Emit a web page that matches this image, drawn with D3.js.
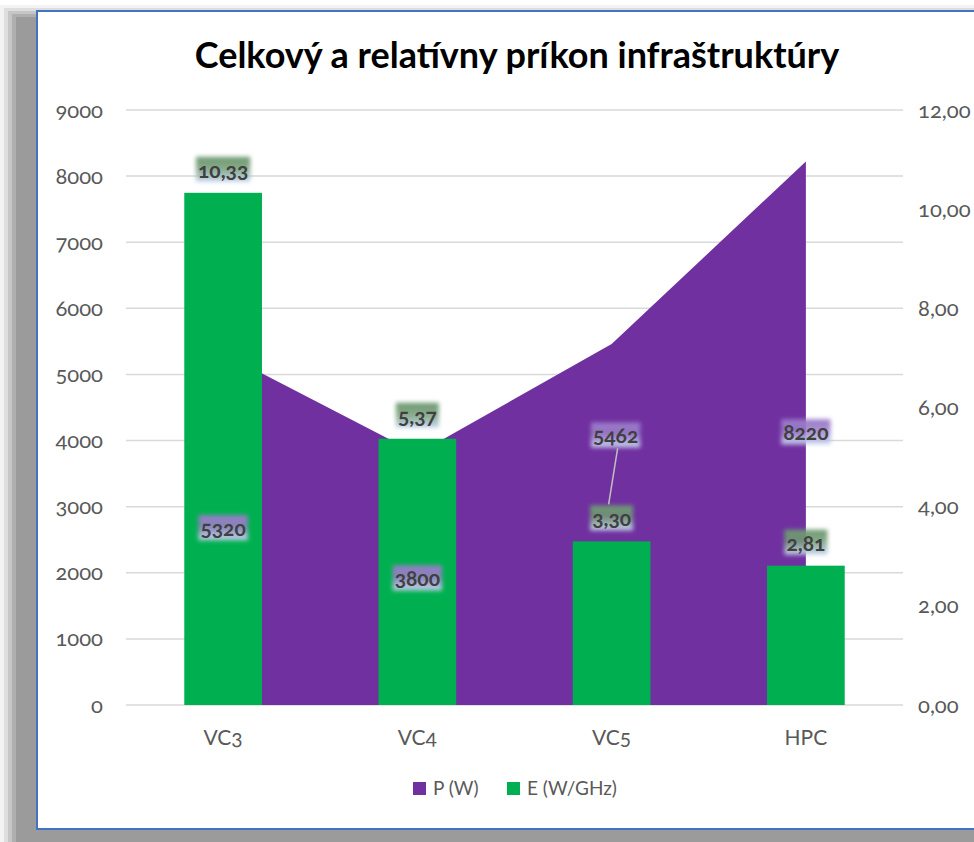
<!DOCTYPE html>
<html>
<head>
<meta charset="utf-8">
<script src="https://cdn.jsdelivr.net/npm/d3@7"></script>
<style>
  html, body { margin: 0; padding: 0; background: #fff; }
  svg { display: block; font-family: Lato, "Open Sans", sans-serif; font-variant-numeric: oldstyle-nums; }
</style>
</head>
<body>
<svg id="chart" width="974" height="842"></svg>
<script>
// Categories and series
const categories = ["VC3", "VC4", "VC5", "HPC"];
const powerW = [5320, 3800, 5462, 8220];        // P (W) – area, left axis
const efficiency = [10.33, 5.37, 3.30, 2.81];   // E (W/GHz) – bars, right axis
const leftTicks = [0, 1000, 2000, 3000, 4000, 5000, 6000, 7000, 8000, 9000];
const rightTicks = [0, 2, 4, 6, 8, 10, 12];
const seriesNames = ["P (W)", "E (W/GHz)"];
const titleText = "Celkový a relatívny príkon infraštruktúry";

const PURPLE = "#7030A0", GREEN = "#00B050", GRID = "#d9d9d9", AXIS_TXT = "#595959", LABEL_TXT = "#404040";

const sk = d3.formatLocale({ decimal: ",", thousands: " ", grouping: [3], currency: ["", " €"] });
const fmt2 = sk.format(".2f");
const fmt0 = d3.format("d");

const svg = d3.select("#chart");
const defs = svg.append("defs");

// Drop shadow frame behind the chart box
const shadowSteps = ["#f3f3f3", "#dedede", "#c6c6c6", "#afafaf", "#9b9b9b"];
shadowSteps.forEach((c, i) => {
  svg.append("rect").attr("x", i * 4).attr("y", 5 + i * 3).attr("width", 1100).attr("height", 900).attr("fill", c);
});
svg.append("rect").attr("x", 37).attr("y", 11).attr("width", 1000).attr("height", 818)
  .attr("fill", "#fff").attr("stroke", "#4472C4").attr("stroke-width", 2);

// Title
svg.append("text").attr("x", 517).attr("y", 68).attr("text-anchor", "middle")
  .attr("font-size", 36).attr("font-weight", 700).attr("fill", "#000").text(titleText);

// Scales
const x = d3.scaleBand().domain(categories).range([126, 903]).padding(0);
const yL = d3.scaleLinear().domain([0, 9000]).range([705, 110]);
const yR = d3.scaleLinear().domain([0, 12]).range([705, 110]);
const cx = c => x(c) + x.bandwidth() / 2;

// Gridlines (left axis)
svg.append("g").selectAll("line").data(leftTicks).join("line")
  .attr("x1", 126).attr("x2", 903).attr("y1", d => yL(d)).attr("y2", d => yL(d))
  .attr("stroke", GRID).attr("stroke-width", 1.5);

function styleAxis(g, size) {
  g.attr("font-family", null).attr("font-size", null);
  g.select(".domain").remove();
  g.selectAll("text").attr("font-size", size).attr("fill", AXIS_TXT);
}

// Left axis labels
const axL = d3.axisLeft(yL).tickValues(leftTicks).tickFormat(fmt0).tickSize(0).tickPadding(0);
const gL = svg.append("g").attr("transform", "translate(103,0)").call(axL);
styleAxis(gL, 22);

// Right axis labels
const axR = d3.axisRight(yR).tickValues(rightTicks).tickFormat(fmt2).tickSize(0).tickPadding(0);
const gR = svg.append("g").attr("transform", "translate(918,0)").call(axR);
styleAxis(gR, 22);

// Area for P (W)
const pts = categories.map((c, i) => ({ c, v: powerW[i] }));
const area = d3.area().x(d => cx(d.c)).y0(yL(0)).y1(d => yL(d.v));
svg.append("path").datum(pts).attr("d", area).attr("fill", PURPLE);

// Bars for E (W/GHz)
const barW = x.bandwidth() * 0.4;
svg.append("g").selectAll("rect").data(categories).join("rect")
  .attr("x", c => cx(c) - barW / 2).attr("width", barW)
  .attr("y", (c, i) => yR(efficiency[i])).attr("height", (c, i) => yR(0) - yR(efficiency[i]))
  .attr("fill", GREEN);

// X axis labels
const axB = d3.axisBottom(x).tickSize(0).tickPadding(0);
const gB = svg.append("g").attr("transform", "translate(0,745)").call(axB);
styleAxis(gB, 21);
gB.selectAll("text").attr("dy", "0");

// Glow backgrounds for data labels
function glowGradient(id, top) {
  const g = defs.append("linearGradient").attr("id", id).attr("x1", 0).attr("y1", 0).attr("x2", 0).attr("y2", 1);
  g.append("stop").attr("offset", "0%").attr("stop-color", top);
  g.append("stop").attr("offset", "45%").attr("stop-color", top).attr("stop-opacity", 0.85);
  g.append("stop").attr("offset", "100%").attr("stop-color", "#c9d8f2");
}
glowGradient("glowGreen", "#6f9a72");
glowGradient("glowPurple", "#9b7cc9");
defs.append("filter").attr("id", "soft").attr("x", "-30%").attr("y", "-30%").attr("width", "160%").attr("height", "160%")
  .append("feGaussianBlur").attr("stdDeviation", 2);

function dataLabel(text, xc, yBase, grad) {
  const g = svg.append("g");
  const bg = g.append("rect").attr("fill", `url(#${grad})`).attr("filter", "url(#soft)");
  const t = g.append("text").attr("x", xc).attr("y", yBase).attr("text-anchor", "middle")
    .attr("font-size", 21).attr("font-weight", 700).attr("fill", LABEL_TXT).text(text);
  const b = t.node().getBBox();
  bg.attr("x", b.x - 2).attr("y", b.y).attr("width", b.width + 4).attr("height", b.height);
}

// E labels above bars
categories.forEach((c, i) => {
  dataLabel(fmt2(efficiency[i]), cx(c), yR(efficiency[i]) - 15, "glowGreen");
});

// P labels centred in the area height; VC5 label lifted with a leader line
categories.forEach((c, i) => {
  const mid = (yL(powerW[i]) + yL(0)) / 2;
  if (c === "VC5") {
    const lx = cx(c) + 4, ly = mid - 88;
    svg.append("line").attr("x1", lx + 2).attr("y1", ly + 12).attr("x2", cx(c) - 3).attr("y2", ly + 68)
      .attr("stroke", "#bfbfbf").attr("stroke-width", 1.5);
    dataLabel(fmt0(powerW[i]), lx, ly + 7, "glowPurple");
  } else {
    dataLabel(fmt0(powerW[i]), cx(c), mid + 7, "glowPurple");
  }
});

// Legend
const legend = svg.append("g").attr("transform", "translate(413,782)");
const legendItems = [{ name: seriesNames[0], color: PURPLE, dx: 0 }, { name: seriesNames[1], color: GREEN, dx: 94 }];
legendItems.forEach(d => {
  legend.append("rect").attr("x", d.dx).attr("y", 0).attr("width", 13).attr("height", 13).attr("fill", d.color);
  legend.append("text").attr("x", d.dx + 20).attr("y", 13).attr("font-size", 19).attr("fill", AXIS_TXT).text(d.name);
});
</script>
</body>
</html>
